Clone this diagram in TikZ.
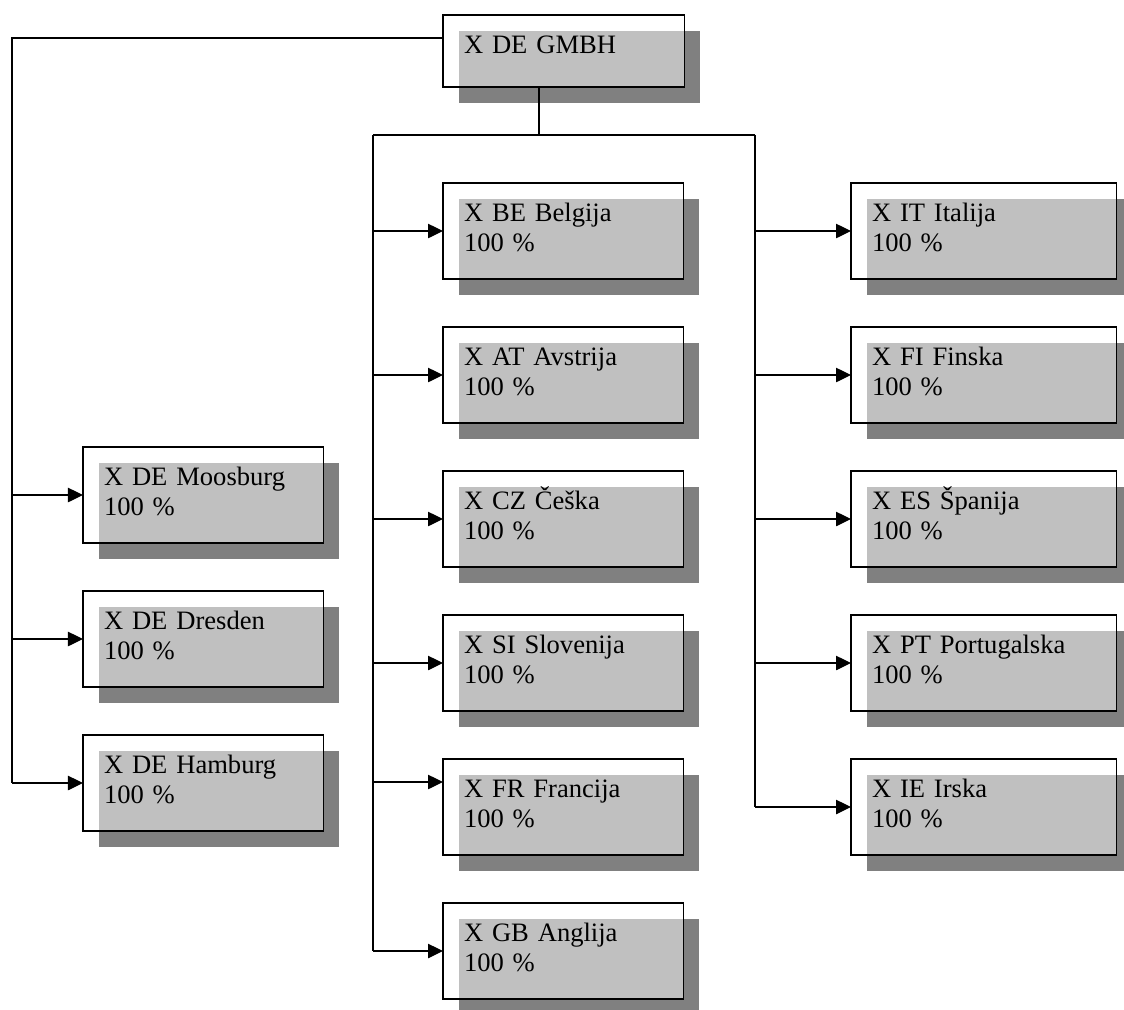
\documentclass[tikz,border=0pt]{standalone}
\usepackage{fontspec}
\setmainfont{Liberation Serif}
\usetikzlibrary{arrows.meta,shadows}
\definecolor{boxgray}{RGB}{192,192,192}
\definecolor{shadowgray}{RGB}{128,128,128}

\begin{document}
\begin{tikzpicture}[x=0.025cm,y=-0.025cm,line width=0.8pt,
  >={Triangle[length=0.375cm,width=0.36cm]},
  firm/.style={draw,fill=white,anchor=north west,outer sep=0pt,
    inner xsep=0.525cm,inner ysep=0pt,text width=4.95cm,align=left,
    text height=0.95cm,text depth=1.45cm,
    font=\fontsize{18.9pt}{22pt}\selectfont,
    drop shadow={shadow xshift=0.4cm,shadow yshift=-0.4cm,fill=shadowgray,opacity=1},
    path picture={\fill[boxgray] ([xshift=0.4cm,yshift=-0.4cm]path picture bounding box.north west)
      rectangle (path picture bounding box.south east);}},
  firmwide/.style={firm,text width=5.575cm}]
\useasboundingbox (0,0) rectangle (1124,1010);
% parent
\node[firm,text width=4.975cm,text depth=0.85cm] (gmbh) at (443,15) {X DE GMBH};
% daughters
\foreach \nm/\lbl [count=\i from 0] in {moos/Moosburg,dres/Dresden,hamb/Hamburg}
  \node[firm] (\nm) at (83,{447+144*\i}) {X DE \lbl\\100 \%};
\foreach \nm/\lbl [count=\i from 0] in {bel/X BE Belgija,aut/X AT Avstrija,cze/X CZ Češka,
    slo/X SI Slovenija,fra/X FR Francija,gbr/X GB Anglija}
  \node[firm] (\nm) at (443,{183+144*\i}) {\lbl\\100 \%};
\foreach \nm/\lbl [count=\i from 0] in {ita/X IT Italija,fin/X FI Finska,esp/X ES Španija,
    prt/X PT Portugalska,irl/X IE Irska}
  \node[firmwide] (\nm) at (851,{183+144*\i}) {\lbl\\100 \%};
% buses
\coordinate (lbus) at (12,38);
\coordinate (mbus) at (373,135);
\coordinate (rbus) at (755,135);
\coordinate (gstub) at (539,135);
\draw (gmbh.west |- lbus) -- (lbus) -- (lbus |- hamb.west);
\draw (gstub |- gmbh.south) -- (gstub);
\draw (mbus) -- (rbus);
\draw[line width=1.5pt] (gmbh.south |- mbus) -- ++(49,0);
\draw (mbus) -- (mbus |- gbr.west);
\draw (rbus) -- (rbus |- irl.west);
% arrows
\foreach \nm in {moos,dres,hamb} \draw[->] (lbus |- \nm.west) -- (\nm.west);
\foreach \nm in {bel,aut,cze,slo,gbr} \draw[->] (mbus |- \nm.west) -- (\nm.west);
\coordinate (frain) at ([yshift=0.625cm]fra.west);
\draw[->] (mbus |- frain) -- (frain);
\foreach \nm in {ita,fin,esp,prt,irl} \draw[->] (rbus |- \nm.west) -- (\nm.west);
\end{tikzpicture}
\end{document}
